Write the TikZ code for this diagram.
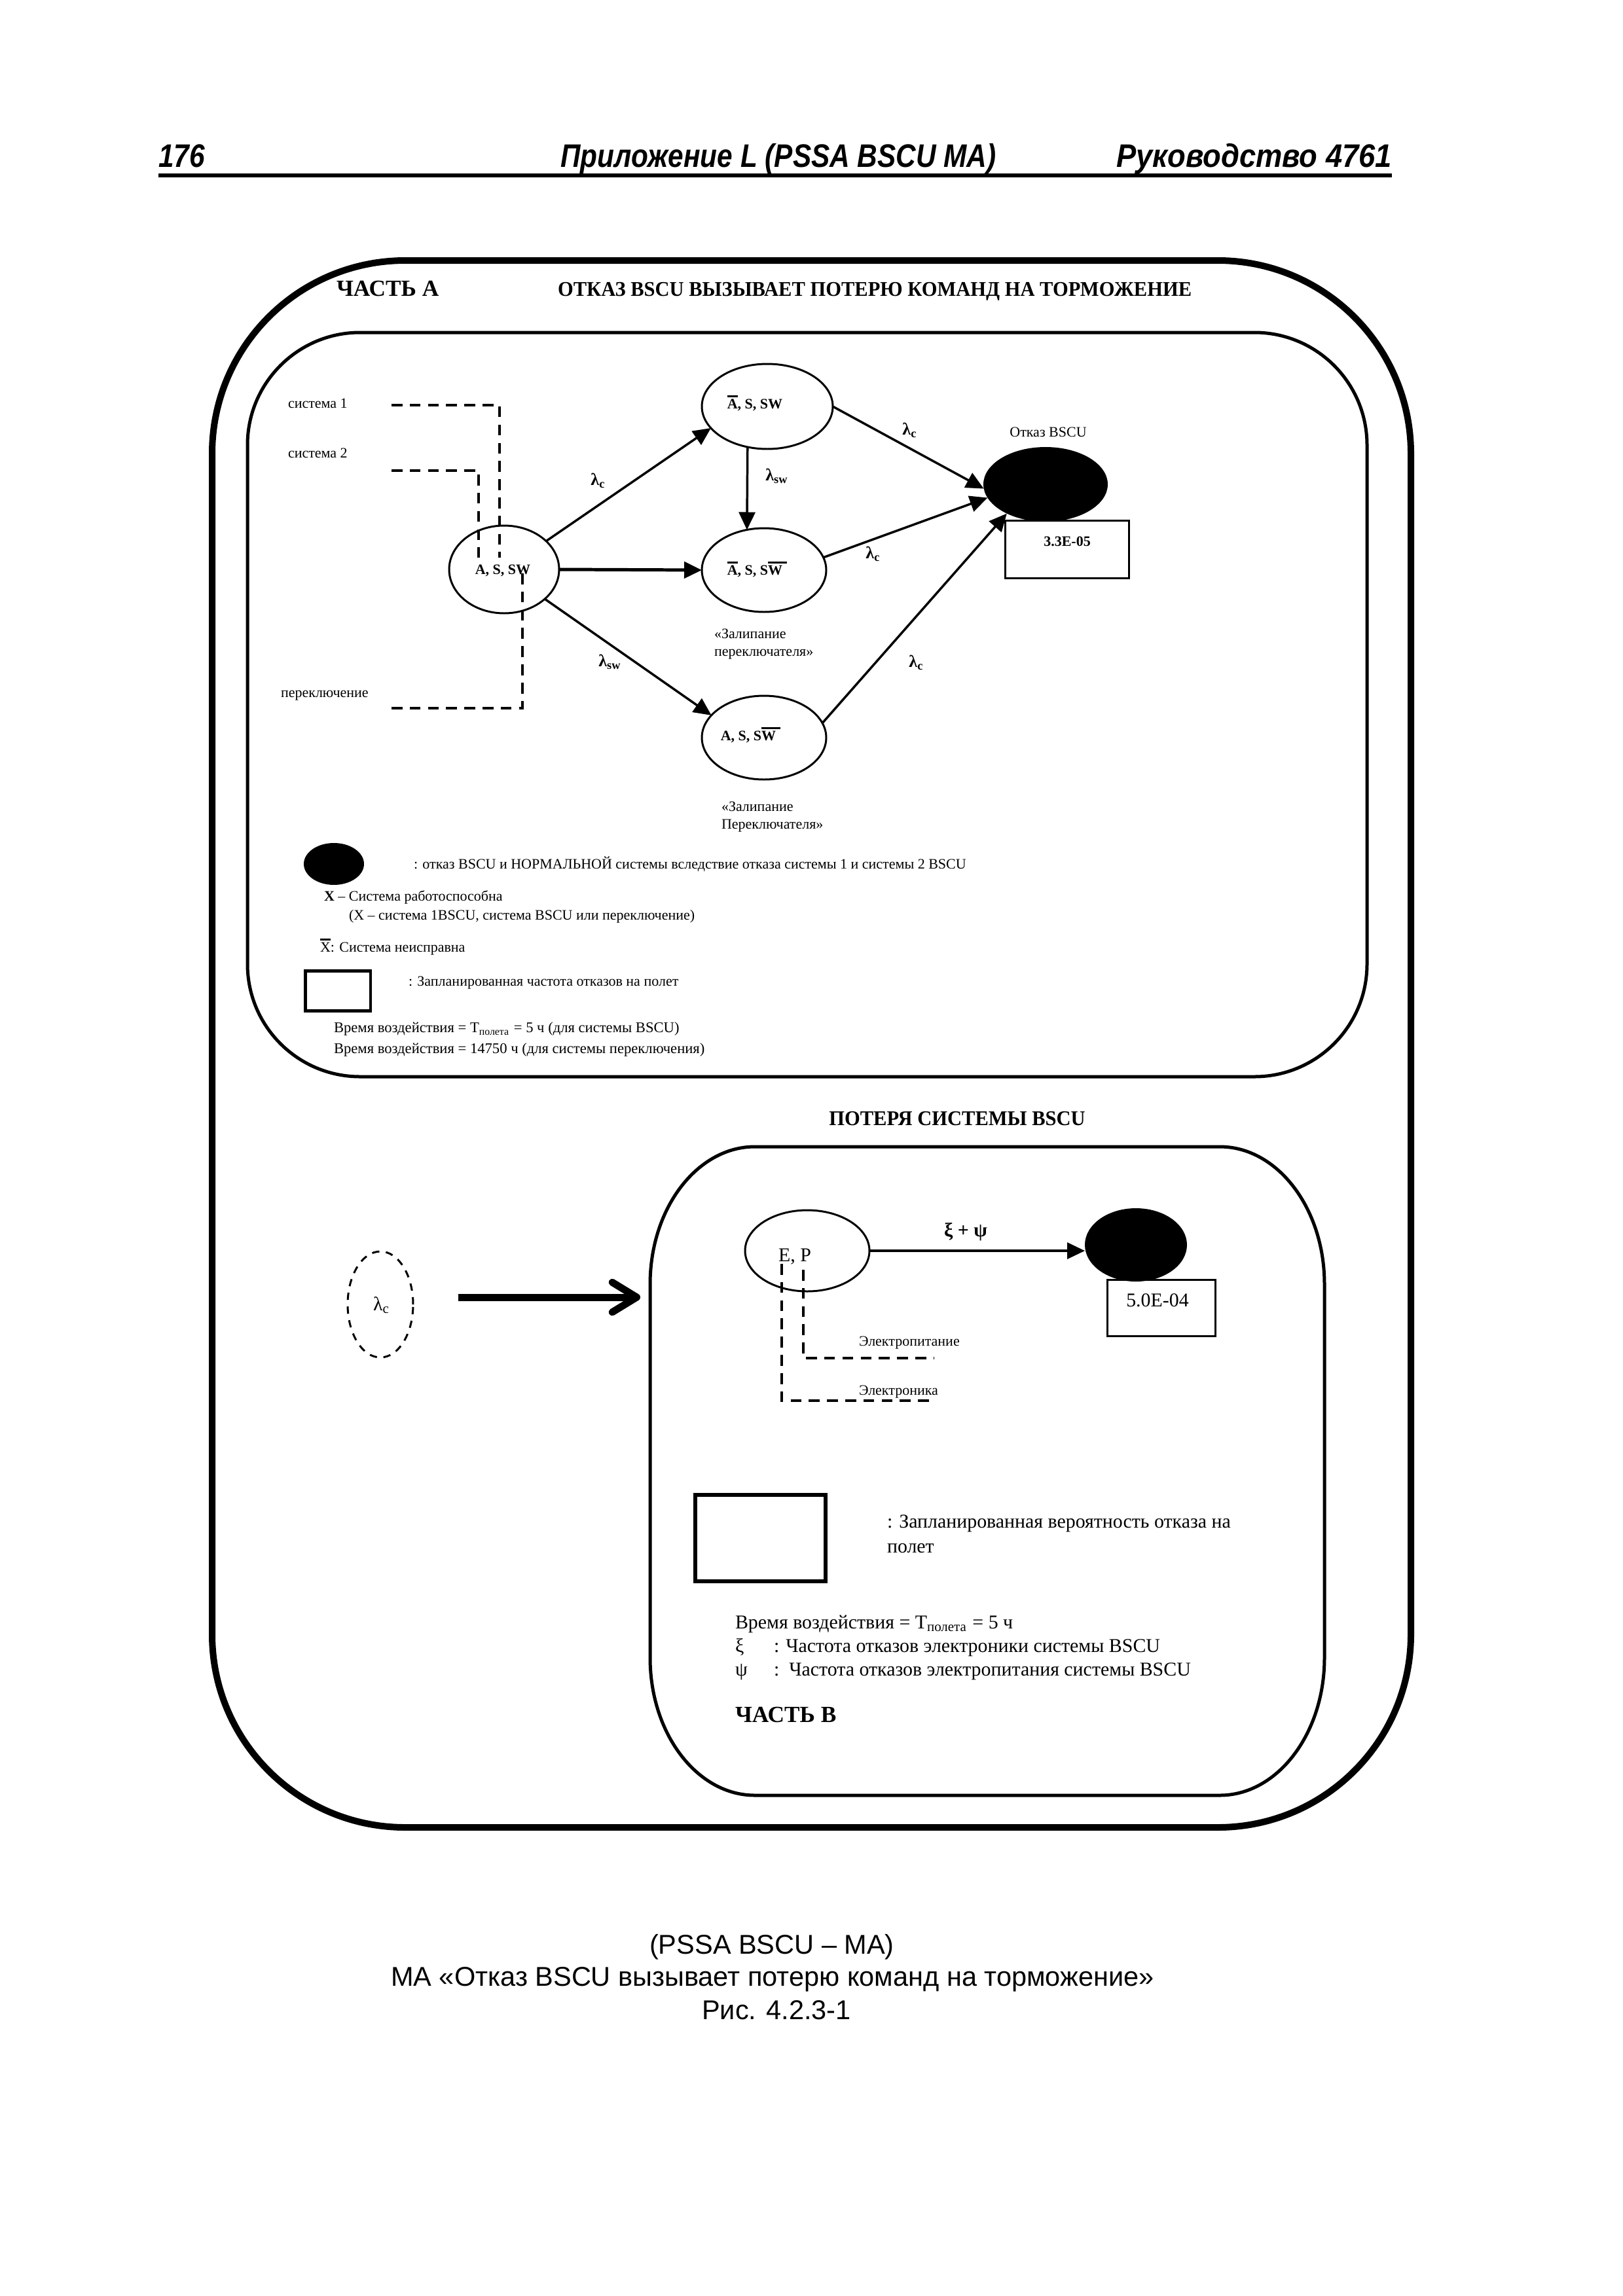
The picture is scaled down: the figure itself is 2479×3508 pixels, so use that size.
\documentclass[tikz,border=0pt]{standalone}
\usepackage{fontspec}
\setmainfont{Liberation Serif}
\newfontfamily\hdrfont[FakeStretch=0.85]{Liberation Sans}
\newfontfamily\hdrfontb[FakeStretch=0.91]{Liberation Sans}
\newfontfamily\capfont{Liberation Sans}
\newfontfamily\ttlfont[FakeStretch=0.955]{Liberation Serif}
\usetikzlibrary{shapes.geometric,arrows.meta,calc}
\newcommand\fsS{\fontsize{5.3pt}{6.4pt}\selectfont}
\newcommand\fsM{\fontsize{7.2pt}{8.6pt}\selectfont}
\newcommand\fsT{\ttlfont\fontsize{7.7pt}{9pt}\selectfont\bfseries}
\newcommand\fsP{\fontsize{8.5pt}{10pt}\selectfont\bfseries}
\newcommand\fsL{\fontsize{6.3pt}{7.5pt}\selectfont\bfseries}
\newcommand\ovl[2][0pt]{\setbox0=\hbox{#2}\rlap{\raisebox{\dimexpr\ht0+0.15em\relax}{\rule{\dimexpr\wd0+#1\relax}{0.11em}}}\box0}
\begin{document}
\begin{tikzpicture}[x=0.084667mm,y=-0.084667mm,
  every node/.style={inner sep=0pt, outer sep=0pt},
  txt/.style={anchor=mid west},
  ctxt/.style={anchor=mid},
  ell/.style 2 args={ellipse, draw, line width=0.72pt, minimum width=#1*0.48176pt, minimum height=#2*0.48176pt},
  blkell/.style 2 args={ellipse, fill=black, minimum width=#1*0.48176pt, minimum height=#2*0.48176pt},
  boxr/.style 2 args={rectangle, draw, line width=0.72pt, minimum width=#1*0.24088pt, minimum height=#2*0.24088pt},
  arr/.style={line width=0.84pt, -{Triangle[length=6.5pt,width=6pt]}},
  dsh/.style={line width=0.96pt, dash pattern=on 4pt off 2.7pt},
  frm/.style={line width=#1*0.24088pt},
]
\fill[white] (0,0) rectangle (2479,3508);
\useasboundingbox (0,0) rectangle (2479,3508);

% header
\node[anchor=base west, font=\hdrfont\fontsize{12pt}{14pt}\selectfont\bfseries\itshape] (hL) at (242,255) {176};
\node[anchor=base, font=\hdrfont\fontsize{12pt}{14pt}\selectfont\bfseries\itshape] (hC) at (1189,255) {Приложение L (PSSA BSCU MA)};
\node[anchor=base east, font=\hdrfontb\fontsize{12pt}{14pt}\selectfont\bfseries\itshape] (hR) at (2126,255) {Руководство 4761};
\coordinate (hl1) at (242,268);
\coordinate (hl2) at (2126,268);
\draw[line width=1.6pt] (hl1) -- (hl2);

% frames
\draw[frm=10] (619,398) -- (1860,398) .. controls (2023,398) and (2155,530) .. (2155,693) -- (2155,2497) .. controls (2155,2660) and (2023,2792) .. (1860,2792) -- (619,2792) .. controls (456,2792) and (324,2660) .. (324,2497) -- (324,693) .. controls (324,530) and (456,398) .. (619,398) -- cycle;
\draw[frm=5] (550,508) -- (1916,508) .. controls (2011,508) and (2088,585) .. (2088,680) -- (2088,1473) .. controls (2088,1568) and (2011,1645) .. (1916,1645) -- (550,1645) .. controls (455,1645) and (378,1568) .. (378,1473) -- (378,680) .. controls (378,585) and (455,508) .. (550,508) -- cycle;
\draw[frm=5] (1153,1752) -- (1863,1752) .. controls (1951,1752) and (2023,1846) .. (2023,1962) -- (2023,2533) .. controls (2023,2649) and (1951,2743) .. (1863,2743) -- (1153,2743) .. controls (1065,2743) and (993,2649) .. (993,2533) -- (993,1962) .. controls (993,1846) and (1065,1752) .. (1153,1752) -- cycle;

% Part A
\node[txt, font=\fsP] (partA) at (514,443) {ЧАСТЬ А};
\node[txt, font=\fsT] (titleA) at (852,443) {ОТКАЗ BSCU ВЫЗЫВАЕТ ПОТЕРЮ КОМАНД НА ТОРМОЖЕНИЕ};

\node[txt,font=\fsS] (s1) at (440,614) {система 1};
\node[txt,font=\fsS] (s2) at (440,690) {система 2};
\node[txt,font=\fsS] (swl) at (429,1056) {переключение};

\node[ell={84}{67}] (main) at (770,870) {};
\node[ctxt,font=\fsS\bfseries] (mainT) at (768,868) {A, S, SW};
\node[ell={100}{65}] (top) at (1172,621) {};
\node[ctxt,font=\fsS\bfseries] (topT) at (1153,615) {\ovl{A}, S, SW};
\node[ell={95}{64}] (mid) at (1167,871) {};
\node[ctxt,font=\fsS\bfseries] (midT) at (1153,869) {\ovl{A}, S, S\ovl[0.3em]{W}};
\node[ell={95}{64}] (bot) at (1167,1127) {};
\node[ctxt,font=\fsS\bfseries] (botT) at (1143,1122) {A, S, S\ovl[0.3em]{W}};
\node[blkell={95}{57}] (blk) at (1597,740) {};
\node[ctxt,font=\fsS] (blkL) at (1601,658) {Отказ BSCU};
\node[boxr={189}{88}] (boxA) at (1629.5,839) {};
\node[ctxt,font=\fsS\bfseries] (boxAT) at (1630,825) {3.3E-05};

\draw[arr] (main.34) -- (top.201);
\draw[arr, line width=1.2pt] (main.east) -- (mid.west);
\draw[arr] (main.-36) -- (bot.157);
\draw[arr] (top.244) -- (mid.113);
\draw[arr] (top.east) -- (blk.184);
\draw[arr] (mid.12) -- (blk.193);
\draw[arr] (bot.14) -- (blk.217);

\node[ctxt,font=\fsL] (l1) at (914,732) {λ\textsubscript{c}};
\node[ctxt,font=\fsL] (l2) at (1187,725) {λ\textsubscript{sw}};
\node[ctxt,font=\fsL] (l3) at (932,1009) {λ\textsubscript{sw}};
\node[ctxt,font=\fsL] (l4) at (1390,655) {λ\textsubscript{c}};
\node[ctxt,font=\fsL] (l5) at (1334,844) {λ\textsubscript{c}};
\node[ctxt,font=\fsL] (l6) at (1400,1010) {λ\textsubscript{c}};

\node[txt,font=\fsS] (z1a) at (1091,966) {«Залипание};
\node[txt,font=\fsS] (z1b) at (1091,993) {переключателя»};
\node[txt,font=\fsS] (z2a) at (1102,1230) {«Залипание};
\node[txt,font=\fsS] (z2b) at (1102,1257) {Переключателя»};

\coordinate (d1a) at (598,619); \coordinate (d1b) at (763,619); \coordinate (d1c) at (763,852);
\coordinate (d2a) at (598,719); \coordinate (d2b) at (731,719); \coordinate (d2c) at (731,852);
\coordinate (d3a) at (598,1082); \coordinate (d3b) at (798,1082); \coordinate (d3c) at (798,873);
\draw[dsh] (d1a) -- (d1b) -- (d1c);
\draw[dsh] (d2a) -- (d2b) -- (d2c);
\draw[dsh] (d3a) -- (d3b) -- (d3c);

% legend A
\node[blkell={46}{32}] (lgB) at (510,1320) {};
\node[txt,font=\fsS] (lg1) at (632,1318) {: отказ BSCU и НОРМАЛЬНОЙ системы вследствие отказа системы 1 и системы 2 BSCU};
\node[txt,font=\fsS] (lg2) at (495,1367) {\textbf{X} – Система работоспособна};
\node[txt,font=\fsS] (lg3) at (533,1396) {(X – система 1BSCU, система BSCU или переключение)};
\node[txt,font=\fsS] (lg4) at (489,1445) {\ovl{X}: Система неисправна};
\node[boxr={100}{61}, line width=1.2pt] (lgBox) at (516,1513.5) {};
\node[txt,font=\fsS] (lg5) at (624,1497) {: Запланированная частота отказов на полет};
\node[txt,font=\fontsize{5.45pt}{6.5pt}\selectfont] (lg6) at (510,1568) {Время воздействия = T\textsubscript{полета} = 5 ч (для системы BSCU)};
\node[txt,font=\fontsize{5.45pt}{6.5pt}\selectfont] (lg7) at (510,1600) {Время воздействия = 14750 ч (для системы переключения)};

% Part B
\node[ctxt,font=\fsT] (titleB) at (1462,1710) {ПОТЕРЯ СИСТЕМЫ BSCU};
\node[ell={50}{81}, dash pattern=on 2.7pt off 2.4pt] (lc) at (581,1993) {};
\node[ctxt,font=\fsM] (lcT) at (583,1993) {λ\textsubscript{c}};
\coordinate (ta) at (700,1982);
\coordinate (tb) at (978,1982);
\draw[line width=2.65pt, -{Straight Barb[length=9pt,width=11pt,line cap=round,line join=round]}] (ta) -- (tb);

\node[ell={95}{62}] (ep) at (1233,1911) {};
\node[ctxt,font=\fsM] (epT) at (1214,1918) {E, P};
\node[blkell={78}{56}] (blkB) at (1735,1902) {};
\draw[arr] (ep.east) -- (ep.east -| blkB.west);
\node[ctxt,font=\fsM\bfseries] (xipsi) at (1475,1880) {ξ + ψ};
\node[boxr={165}{86}] (boxB) at (1773.5,1998) {};
\node[ctxt,font=\fsM] (boxBT) at (1768,1987) {5.0E-04};

\coordinate (e1a) at (1194,1931); \coordinate (e1b) at (1194,2140); \coordinate (e1c) at (1426,2140);
\coordinate (e2a) at (1227,1940); \coordinate (e2b) at (1227,2075); \coordinate (e2c) at (1426,2075);
\draw[dsh] (e1a) -- (e1b) -- (e1c);
\draw[dsh] (e2a) -- (e2b) -- (e2c);
\node[txt,font=\fsS] (ept1) at (1312,2047) {Электропитание};
\node[txt,font=\fsS] (ept2) at (1312,2122) {Электроника};

\node[boxr={199}{132}, line width=1.6pt] (lgBoxB) at (1161.5,2350) {};
\node[txt,font=\fsM] (lb1) at (1355,2325) {: Запланированная вероятность отказа на};
\node[txt,font=\fsM] (lb2) at (1355,2363) {полет};
\node[txt,font=\fsM] (lb3) at (1123,2479) {Время воздействия = T\textsubscript{полета} = 5 ч};
\node[txt,font=\fsM] (lb4) at (1123,2515) {ξ};
\node[txt,font=\fsM] (lb5) at (1182,2515) {: Частота отказов электроники системы BSCU};
\node[txt,font=\fsM] (lb6) at (1123,2551) {ψ};
\node[txt,font=\fsM] (lb7) at (1182,2551) {:\ \ Частота отказов электропитания системы BSCU};
\node[txt,font=\fsP] (partB) at (1123,2622) {ЧАСТЬ В};

% caption
\node[ctxt,font=\capfont\fontsize{10pt}{12pt}\selectfont] (c1) at (1179,2976) {(PSSA BSCU – MA)};
\node[ctxt,font=\capfont\fontsize{10pt}{12pt}\selectfont] (c2) at (1180,3025) {MA «Отказ BSCU вызывает потерю команд на торможение»};
\node[ctxt,font=\capfont\fontsize{10pt}{12pt}\selectfont] (c3) at (1186,3076) {Рис. 4.2.3-1};
\end{tikzpicture}
\end{document}
